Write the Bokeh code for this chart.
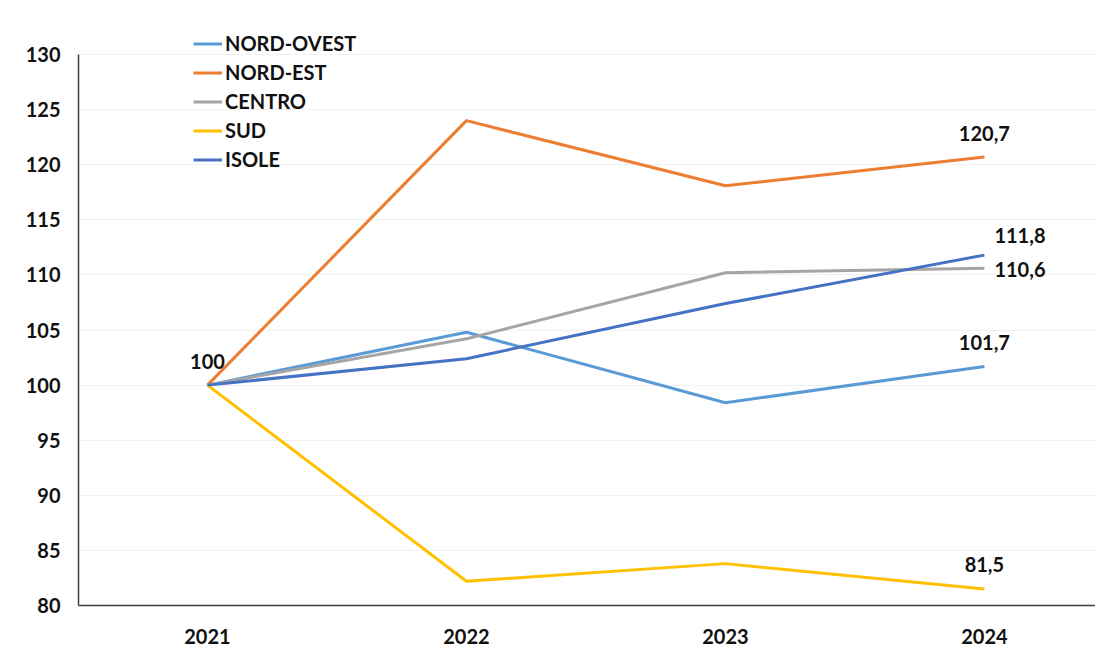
from bokeh.plotting import figure
from bokeh.models import Range1d, Legend, LegendItem, FixedTicker, ColumnDataSource
from bokeh.core.properties import value
from bokeh.embed import file_html
from bokeh.resources import INLINE

years = ["2021", "2022", "2023", "2024"]
nord_ovest = [100, 104.8, 98.4, 101.7]
nord_est = [100, 124.0, 118.1, 120.7]
centro = [100, 104.2, 110.2, 110.6]
sud = [100, 82.2, 83.8, 81.5]
isole = [100, 102.4, 107.4, 111.8]

series_names = ["NORD-OVEST", "NORD-EST", "CENTRO", "SUD", "ISOLE"]
series_values = [nord_ovest, nord_est, centro, sud, isole]
colors = ["#5B9BD5", "#ED7D31", "#A5A5A5", "#FFC000", "#4472C4"]

FONT = "Lato"
FS = "20px"
xi = list(range(len(years)))

p = figure(width=1095, height=646, output_backend="svg", toolbar_location=None,
           x_range=Range1d(-0.498, 3.429), y_range=Range1d(80, 133),
           min_border_left=78, min_border_top=21, min_border_bottom=41, min_border_right=0)
p.outline_line_color = None
p.background_fill_color = "white"
p.border_fill_color = "white"

p.xaxis.ticker = FixedTicker(ticks=xi)
p.xaxis.major_label_overrides = {i: y for i, y in zip(xi, years)}
p.yaxis.ticker = FixedTicker(ticks=list(range(80, 131, 5)))
p.yaxis.bounds = (80, 130)
for ax in (p.xaxis, p.yaxis):
    ax.major_tick_line_color = None
    ax.minor_tick_line_color = None
    ax.axis_line_color = "#404040"
    ax.axis_line_width = 1.5
    ax.major_label_text_font = FONT
    ax.major_label_text_font_style = "bold"
    ax.major_label_text_font_size = FS
    ax.major_label_text_color = "#111111"
p.xaxis.major_label_standoff = 17
p.yaxis.major_label_standoff = 12
p.xgrid.grid_line_color = None
p.ygrid.grid_line_color = "#f0f0f0"
p.ygrid.grid_line_width = 1

items = []
for name, vals, c in zip(series_names, series_values, colors):
    r = p.line(xi, vals, line_color=c, line_width=3)
    items.append(LegendItem(label=name, renderers=[r]))

legend = Legend(items=items, location=(115, 434), orientation="vertical",
                glyph_width=29, glyph_height=21, spacing=5, label_standoff=3,
                padding=0, margin=0, border_line_color=None, background_fill_alpha=0,
                label_text_font=FONT, label_text_font_style="bold",
                label_text_font_size=FS, label_text_color="#111111")
p.add_layout(legend, "center")

label_style = dict(text_font=value(FONT), text_font_style="bold",
                   text_font_size=FS, text_color="#111111")

# data labels above points
above_src = ColumnDataSource(dict(
    x=[0, 3, 3, 3],
    y=[nord_ovest[0], nord_est[3], nord_ovest[3], sud[3]],
    t=["100", "120,7", "101,7", "81,5"],
))
p.text(x="x", y="y", text="t", source=above_src, text_align="center",
       text_baseline="middle", y_offset=-24, **label_style)

# data labels right of points
p.text(x=[3], y=[isole[3]], text=["111,8"], text_align="left",
       text_baseline="middle", x_offset=10, y_offset=-20, **label_style)
p.text(x=[3], y=[centro[3]], text=["110,6"], text_align="left",
       text_baseline="middle", x_offset=10, y_offset=1, **label_style)

open("out.html", "w").write(file_html(p, INLINE))
